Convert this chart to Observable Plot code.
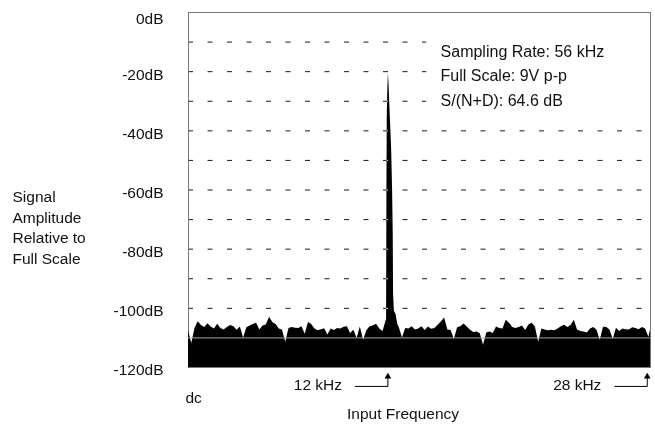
<!DOCTYPE html>
<html><head><meta charset="utf-8">
<script src="https://cdn.jsdelivr.net/npm/d3@7"></script>
<script src="https://cdn.jsdelivr.net/npm/@observablehq/plot@0.6"></script>
<style>body{margin:0;background:#fff}#chart{width:655px;height:427px}</style>
</head><body><div id="chart"></div>
<script>
// ---- data ----
const yTicks = [0, -20, -40, -60, -80, -100, -120];
const gridLevels = [-10, -20, -30, -40, -50, -60, -70, -80, -90, -100];
const floorLevel = -110;
const freqDomain = [-0.3, 28.2];
const noiseStartKHz = -0.3;
const noiseStepKHz = 0.2;
const noiseDb = [
  -107.5,-111.9,-106.8,-104.5,-105.8,-106.5,-105.2,-106.3,-107.0,-105.4,
  -106.8,-107.3,-106.5,-105.8,-106.2,-107.4,-106.3,-110.0,-106.6,-106.0,
  -105.5,-105.0,-107.3,-106.0,-105.6,-103.0,-104.8,-105.5,-107.0,-107.4,
  -111.5,-106.8,-106.5,-106.7,-106.8,-106.2,-108.8,-104.8,-105.5,-107.0,
  -107.6,-107.2,-106.9,-109.0,-107.0,-107.5,-106.8,-107.0,-106.4,-106.2,
  -108.5,-107.4,-110.2,-106.3,-110.8,-107.6,-106.2,-106.0,-105.4,-107.0,
  -107.8,-104.0,-103.0,-102.0,-104.5,-106.5,-110.0,-106.8,-107.0,-106.2,
  -107.3,-107.0,-106.2,-107.5,-106.3,-107.1,-106.8,-105.7,-104.6,-103.3,
  -107.3,-107.5,-110.5,-106.6,-106.2,-105.3,-106.3,-107.4,-108.2,-108.0,
  -108.6,-112.5,-108.3,-108.0,-108.5,-106.3,-106.8,-107.0,-104.0,-105.0,
  -106.5,-106.8,-106.5,-106.0,-107.5,-105.6,-105.0,-106.3,-111.5,-107.0,
  -107.3,-107.6,-107.4,-107.6,-107.0,-106.2,-105.7,-106.5,-105.8,-104.0,
  -107.3,-107.8,-108.0,-108.3,-107.0,-106.5,-107.4,-110.8,-106.4,-106.5,
  -107.3,-110.5,-106.7,-107.8,-107.0,-107.2,-107.3,-106.6,-106.8,-107.2,
  -106.5,-107.0,-109.8,-104.8
];
const peakKHz = [11.86, 11.92, 11.94, 11.96, 11.99, 12.03, 12.07, 12.11, 12.17, 12.23, 12.29, 12.33, 12.35, 12.40, 12.50, 12.60, 12.66, 12.72];
const peakDb  = [-106, -104, -60, -36, -27, -20.5, -24, -30, -38, -46, -60, -75, -95, -101, -102, -105, -108, -111];
const markers = [{khz: 12, label: "12 kHz"}, {khz: 28, label: "28 kHz"}];
const noteLines = ["Sampling Rate: 56 kHz", "Full Scale: 9V p-p", "S/(N+D): 64.6 dB"];
const yTitle = ["Signal", "Amplitude", "Relative to", "Full Scale"];
const xTitle = "Input Frequency";
const xStartLabel = "dc";

// ---- build tables ----
const noise = noiseDb.map((db, i) => ({f: noiseStartKHz + i * noiseStepKHz, db}));
const peak = peakKHz.map((f, i) => ({f, db: peakDb[i]}));
const noteStartKHz = 14.4;   // grid dashes stop where the note begins
const noteTextKHz = 15.25;
const grid = gridLevels.map(db => ({db, x1: freqDomain[0], x2: db > -35 ? noteStartKHz : freqDomain[1]}));
const arrowRow = -126.4, arrowTip = -123.1;
const arrowPath = markers.flatMap(m => [
  {label: m.label, f: m.khz - 2, db: arrowRow},
  {label: m.label, f: m.khz, db: arrowRow},
  {label: m.label, f: m.khz, db: arrowTip}
]);

const chart = Plot.plot({
  width: 655, height: 427,
  marginTop: 12, marginBottom: 60, marginLeft: 188, marginRight: 5,
  style: {fontFamily: "'Liberation Sans', Arial, Helvetica, sans-serif", fontSize: "15.5px", color: "#111", background: "#fff"},
  x: {domain: freqDomain, axis: null},
  y: {domain: [-120, 0]},
  marks: [
    Plot.frame({stroke: "#777"}),
    Plot.areaY(noise, {x: "f", y1: -120, y2: "db", fill: "#000", clip: true}),
    Plot.areaY(peak, {x: "f", y1: -120, y2: "db", fill: "#000"}),
    Plot.ruleY(grid, {y: "db", x1: "x1", x2: "x2", stroke: "#e6e6e6", strokeDasharray: "5,14.5", mixBlendMode: "difference"}),
    Plot.ruleY([floorLevel], {stroke: "#aaa"}),
    Plot.axisY(yTicks.filter(d => d < 0), {tickSize: 0, tickPadding: 25, dy: 3, tickFormat: d => `${d}dB`, label: null, fill: "#111"}),
    Plot.axisY(yTicks.filter(d => d === 0), {tickSize: 0, tickPadding: 25, dy: 7, tickFormat: d => `${d}dB`, label: null, fill: "#111"}),
    Plot.text([yTitle.join("\n")], {frameAnchor: "left", y: -72.3, dx: -176, textAnchor: "start", lineHeight: 1.32, fill: "#111"}),
    Plot.text([noteLines.join("\n")], {x: noteTextKHz, y: -20.6, textAnchor: "start", lineHeight: 1.55, fontSize: 16, fill: "#111"}),
    Plot.text(markers, {x: "khz", text: "label", frameAnchor: "bottom", dy: 22, dx: -70, fill: "#111"}),
    Plot.line(arrowPath, {x: "f", y: "db", z: "label", stroke: "#000", strokeWidth: 1}),
    Plot.dot(markers, {x: "khz", y: arrowTip, symbol: "triangle", r: 2.5, fill: "#000", stroke: null}),
    Plot.text([xStartLabel], {frameAnchor: "bottom-left", dx: -3, dy: 35, fill: "#111"}),
    Plot.text([xTitle], {frameAnchor: "bottom", dx: -16.5, dy: 51, fill: "#111"})
  ]
});
document.getElementById("chart").appendChild(chart);
</script>
</body></html>
